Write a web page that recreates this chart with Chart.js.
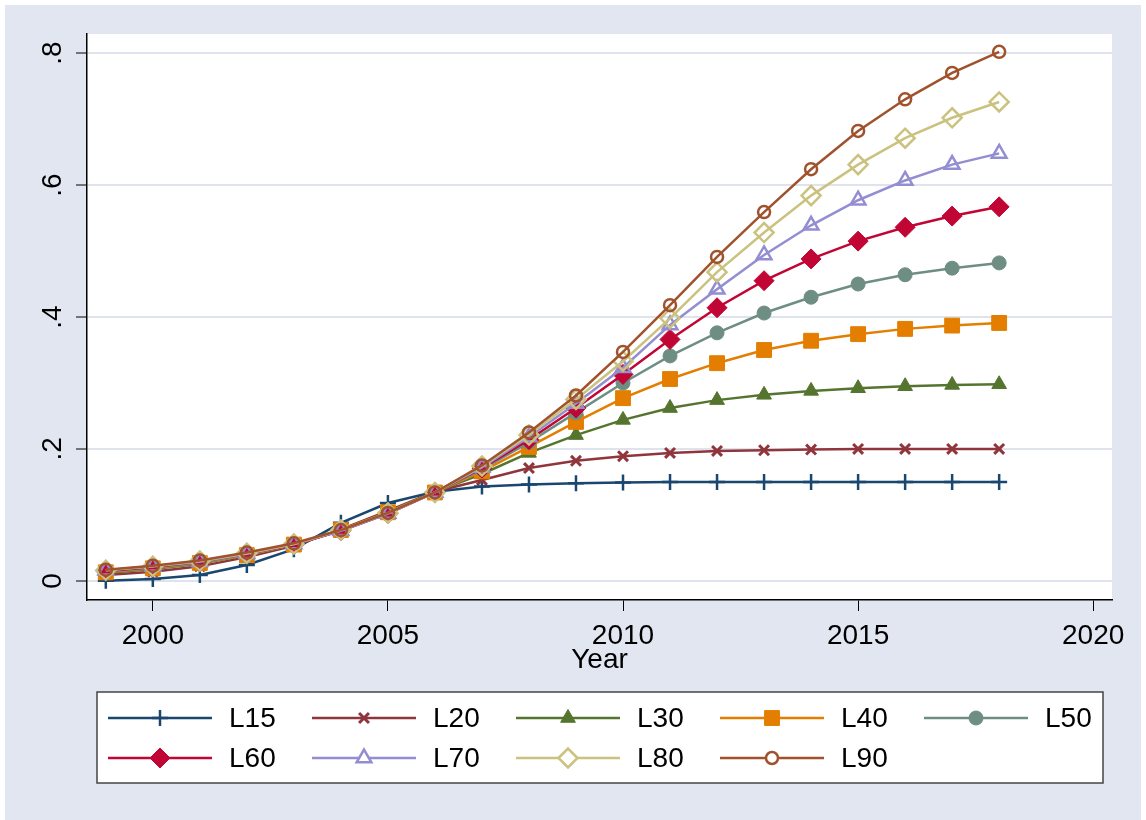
<!DOCTYPE html>
<html>
<head>
<meta charset="utf-8">
<script src="https://cdn.jsdelivr.net/npm/chart.js@4"></script>
<style>
  html, body { margin: 0; padding: 0; background: #ffffff; }
  canvas { display: block; }
</style>
</head>
<body>
<canvas id="c" width="1146" height="820"></canvas>
<script>
// ---------------- data ----------------
const years = [1999, 2000, 2001, 2002, 2003, 2004, 2005, 2006, 2007, 2008, 2009, 2010, 2011, 2012, 2013, 2014, 2015, 2016, 2017, 2018];
const seriesNames = ['L15', 'L20', 'L30', 'L40', 'L50', 'L60', 'L70', 'L80', 'L90'];
const L15 = [0.000, 0.003, 0.009, 0.024, 0.048, 0.088, 0.118, 0.135, 0.143, 0.146, 0.148, 0.149, 0.150, 0.150, 0.150, 0.150, 0.150, 0.150, 0.150, 0.150];
const L20 = [0.009, 0.014, 0.022, 0.036, 0.053, 0.078, 0.106, 0.135, 0.153, 0.171, 0.182, 0.189, 0.194, 0.197, 0.198, 0.199, 0.200, 0.200, 0.200, 0.200];
const L30 = [0.012, 0.018, 0.026, 0.039, 0.055, 0.077, 0.104, 0.135, 0.162, 0.194, 0.221, 0.244, 0.262, 0.274, 0.282, 0.288, 0.292, 0.295, 0.297, 0.298];
const L40 = [0.013, 0.019, 0.027, 0.039, 0.055, 0.077, 0.104, 0.134, 0.166, 0.203, 0.241, 0.277, 0.306, 0.330, 0.350, 0.364, 0.374, 0.382, 0.387, 0.391];
const L50 = [0.014, 0.020, 0.028, 0.040, 0.055, 0.076, 0.103, 0.134, 0.169, 0.210, 0.255, 0.300, 0.341, 0.376, 0.406, 0.430, 0.450, 0.464, 0.474, 0.482];
const L60 = [0.015, 0.021, 0.029, 0.041, 0.055, 0.076, 0.102, 0.134, 0.171, 0.214, 0.262, 0.313, 0.366, 0.414, 0.455, 0.488, 0.515, 0.536, 0.553, 0.567];
const L70 = [0.016, 0.022, 0.029, 0.041, 0.056, 0.076, 0.102, 0.134, 0.172, 0.218, 0.269, 0.323, 0.388, 0.442, 0.494, 0.539, 0.577, 0.607, 0.631, 0.648];
const L80 = [0.016, 0.022, 0.030, 0.042, 0.056, 0.077, 0.103, 0.134, 0.174, 0.221, 0.275, 0.333, 0.398, 0.468, 0.528, 0.584, 0.631, 0.671, 0.702, 0.726];
const L90 = [0.017, 0.023, 0.031, 0.043, 0.057, 0.077, 0.103, 0.134, 0.175, 0.225, 0.281, 0.347, 0.418, 0.491, 0.559, 0.624, 0.682, 0.730, 0.770, 0.802];
const seriesValues = [L15, L20, L30, L40, L50, L60, L70, L80, L90];
const xTickValues = [2000, 2005, 2010, 2015, 2020];
const yTickValues = [0, 0.2, 0.4, 0.6, 0.8];
const yTickLabels = ['0', '.2', '.4', '.6', '.8'];
const xTitle = 'Year';

// ---------------- styles ----------------
const FONT = '"Liberation Sans", Arial, Helvetica, sans-serif';
const colors = ['#1A476F', '#90353B', '#55752F', '#E37E00', '#6E8E84', '#C10534', '#938DD2', '#CAC27E', '#A0522D'];
const markers = [
  { style: 'cross',    radius: 8,    border: 2.5, hollow: true },
  { style: 'crossRot', radius: 7,    border: 3,   hollow: true },
  { style: 'triangle', radius: 8.5,  border: 1,   hollow: false },
  { style: 'rect',     radius: 10.5, border: 1,   hollow: false },
  { style: 'circle',   radius: 7,    border: 1,   hollow: false },
  { style: 'rectRot',  radius: 10,   border: 1,   hollow: false },
  { style: 'triangle', radius: 8.5,  border: 2.5, hollow: true },
  { style: 'rectRot',  radius: 9.5,  border: 2.5, hollow: true },
  { style: 'circle',   radius: 6,    border: 2.5, hollow: true }
];

const datasets = seriesNames.map((name, i) => ({
  label: name,
  data: years.map((yr, j) => ({ x: yr, y: seriesValues[i][j] })),
  borderColor: colors[i],
  backgroundColor: colors[i],
  borderWidth: 2.5,
  pointStyle: markers[i].style,
  pointRadius: markers[i].radius,
  pointHoverRadius: markers[i].radius,
  pointBorderWidth: markers[i].border,
  pointBorderColor: colors[i],
  pointBackgroundColor: markers[i].hollow ? 'rgba(0,0,0,0)' : colors[i],
  tension: 0,
  fill: false,
  order: seriesNames.length - i
}));

const bgPlugin = {
  id: 'bg',
  beforeDraw(chart) {
    const ctx = chart.ctx;
    const a = chart.chartArea;
    ctx.save();
    ctx.fillStyle = '#ffffff';
    ctx.fillRect(0, 0, chart.width, chart.height);
    ctx.fillStyle = '#E1E6F0';
    ctx.fillRect(5, 5, 1136, 815);
    ctx.fillStyle = '#ffffff';
    ctx.fillRect(a.left, a.top, a.right - a.left, a.bottom - a.top);
    ctx.restore();
  }
};

const legendPlugin = {
  id: 'stataLegend',
  afterDraw(chart) {
    const ctx = chart.ctx;
    ctx.save();
    // box
    ctx.fillStyle = '#ffffff';
    ctx.fillRect(97, 692, 1006, 91);
    ctx.strokeStyle = '#444444';
    ctx.lineWidth = 1.5;
    ctx.strokeRect(97, 692, 1006, 91);
    const colStart = [108, 312, 516, 720, 924];
    const rowY = [718, 758];
    chart.data.datasets.forEach((ds, i) => {
      const col = i % 5, row = Math.floor(i / 5);
      const x0 = colStart[col], x1 = x0 + 104, y = rowY[row];
      ctx.strokeStyle = ds.borderColor;
      ctx.lineWidth = ds.borderWidth;
      ctx.beginPath();
      ctx.moveTo(x0, y);
      ctx.lineTo(x1, y);
      ctx.stroke();
      ctx.fillStyle = ds.pointBackgroundColor === 'rgba(0,0,0,0)' ? '#ffffff' : ds.pointBackgroundColor;
      ctx.strokeStyle = ds.pointBorderColor;
      ctx.lineWidth = ds.pointBorderWidth;
      Chart.helpers.drawPoint(ctx, {
        pointStyle: ds.pointStyle,
        radius: ds.pointRadius,
        borderWidth: ds.pointBorderWidth,
        rotation: 0
      }, (x0 + x1) / 2, y);
      ctx.fillStyle = '#000000';
      ctx.font = '28px ' + FONT;
      ctx.textAlign = 'left';
      ctx.textBaseline = 'middle';
      ctx.fillText(ds.label, x0 + 121, y + 1);
    });
    ctx.restore();
  }
};

new Chart(document.getElementById('c'), {
  type: 'line',
  data: { datasets },
  plugins: [bgPlugin, legendPlugin],
  options: {
    responsive: false,
    devicePixelRatio: 1,
    animation: false,
    layout: { padding: { left: 0, top: 34, right: 34, bottom: 146 } },
    plugins: {
      legend: { display: false },
      tooltip: { enabled: false },
      title: { display: false }
    },
    scales: {
      x: {
        type: 'linear',
        min: 1998.6,
        max: 2020.4,
        afterBuildTicks(scale) { scale.ticks = xTickValues.map(v => ({ value: v })); },
        afterFit(scale) { scale.height = 74; },
        ticks: {
          autoSkip: false,
          maxRotation: 0,
          minRotation: 0,
          padding: 8,
          color: '#000000',
          font: { family: FONT, size: 28 },
          callback: (v) => String(v)
        },
        grid: {
          drawOnChartArea: false,
          drawTicks: true,
          tickLength: 11,
          tickColor: '#000000',
          tickWidth: 1
        },
        border: { display: true, color: '#000000', width: 1.5 },
        title: {
          display: true,
          text: xTitle,
          color: '#000000',
          font: { family: FONT, size: 28, lineHeight: 1 },
          padding: 0
        }
      },
      y: {
        type: 'linear',
        min: -0.029,
        max: 0.829,
        afterBuildTicks(scale) { scale.ticks = yTickValues.map(v => ({ value: v })); },
        afterFit(scale) { scale.width = 87; },
        ticks: {
          autoSkip: false,
          minRotation: 90,
          maxRotation: 90,
          crossAlign: 'center',
          padding: 11,
          color: '#000000',
          font: { family: FONT, size: 28 },
          callback: (v) => {
            const k = yTickValues.findIndex(t => Math.abs(t - v) < 1e-9);
            return k >= 0 ? yTickLabels[k] : '';
          }
        },
        grid: {
          drawOnChartArea: true,
          color: '#DEE3EE',
          lineWidth: 2,
          drawTicks: true,
          tickLength: 11,
          tickColor: '#000000',
          tickWidth: 1
        },
        border: { display: true, color: '#000000', width: 1.5 }
      }
    }
  }
});
</script>
</body>
</html>
